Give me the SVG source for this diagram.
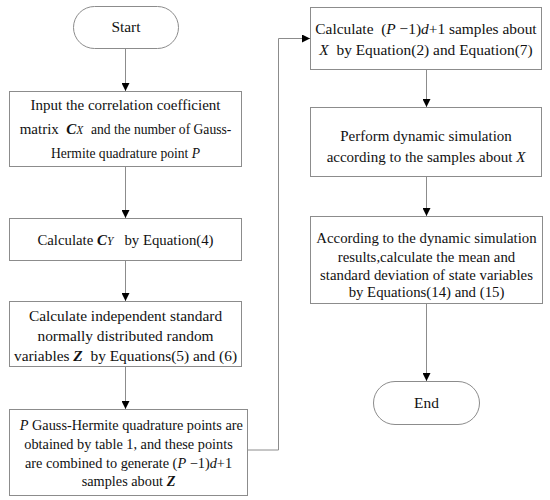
<svg xmlns="http://www.w3.org/2000/svg" width="550" height="500" viewBox="0 0 550 500">
<style>
.box{fill:#fff;stroke:#8c8c8c;stroke-width:1}
.ln{fill:none;stroke:#8c8c8c;stroke-width:1}
text{font-family:"Liberation Serif","Times New Roman",serif;font-size:15.4px;fill:#111;text-anchor:middle}
.sm{font-size:14.8px}
.s15{font-size:15px}
.s14{font-size:14.3px}
.s13{font-size:13.6px}
.i{font-style:italic}
.bi{font-style:italic;font-weight:bold}
</style>
<defs>
<marker id="ar" viewBox="0 0 8 8" refX="8" refY="4" markerWidth="8" markerHeight="8" markerUnits="userSpaceOnUse" orient="auto">
<path d="M0,0 L8,4 L0,8 Z" fill="#000"/>
</marker>
</defs>
<rect width="550" height="500" fill="#fff"/>
<g id="connectors">
<line class="ln" x1="125.5" y1="48" x2="125.5" y2="91" marker-end="url(#ar)"/>
<line class="ln" x1="125.5" y1="166" x2="125.5" y2="218" marker-end="url(#ar)"/>
<line class="ln" x1="125.5" y1="260" x2="125.5" y2="301" marker-end="url(#ar)"/>
<line class="ln" x1="125.5" y1="366" x2="125.5" y2="409" marker-end="url(#ar)"/>
<polyline class="ln" points="247,450 278.5,450 278.5,38.5 310,38.5" marker-end="url(#ar)"/>
<line class="ln" x1="426.5" y1="69" x2="426.5" y2="107" marker-end="url(#ar)"/>
<line class="ln" x1="426.5" y1="176" x2="426.5" y2="216" marker-end="url(#ar)"/>
<line class="ln" x1="426.5" y1="303" x2="426.5" y2="381" marker-end="url(#ar)"/>
</g>
<g id="start">
<rect class="box" x="73.5" y="6.5" width="105" height="42" rx="21"/>
<text x="126" y="32">Start</text>
</g>
<g id="input">
<rect class="box" x="9.5" y="91.5" width="232" height="75"/>
<text class="s15" x="125.5" y="110">Input the correlation coefficient</text>
<text class="s15" x="125.5" y="134" xml:space="preserve">matrix  <tspan class="bi">C</tspan><tspan class="i" font-size="11.5">X</tspan>  <tspan class="s13">and the number of Gauss-</tspan></text>
<text class="s13" x="125.5" y="158">Hermite quadrature point <tspan class="i">P</tspan></text>
</g>
<g id="calcCY">
<rect class="box" x="9.5" y="218.5" width="232" height="42"/>
<text class="sm" x="125.5" y="245" xml:space="preserve">Calculate <tspan class="bi">C</tspan><tspan class="i" font-size="11.5">Y</tspan>   by Equation(4)</text>
</g>
<g id="calcZ">
<rect class="box" x="9.5" y="301.5" width="232" height="65"/>
<text x="125.5" y="321">Calculate independent standard</text>
<text x="125.5" y="341">normally distributed random</text>
<text x="125.5" y="361" xml:space="preserve">variables <tspan class="bi">Z</tspan>  by Equations(5) and (6)</text>
</g>
<g id="points">
<rect class="box" x="9.5" y="409.5" width="238" height="86"/>
<text class="s14" x="129.5" y="430" xml:space="preserve"> <tspan class="i">P</tspan> Gauss-Hermite quadrature points are</text>
<text class="s14" x="128.5" y="449">obtained by table 1, and these points</text>
<text class="s14" x="128.5" y="468">are combined to generate (<tspan class="i">P</tspan> −1)<tspan class="i">d</tspan>+1</text>
<text class="s14" x="128.5" y="486">samples about <tspan class="bi">Z</tspan></text>
</g>
<g id="calcX">
<rect class="box" x="310.5" y="7.5" width="231" height="62"/>
<text x="426" y="34" xml:space="preserve">Calculate  (<tspan class="i">P</tspan> −1)<tspan class="i">d</tspan>+1 samples about</text>
<text x="426" y="55" xml:space="preserve"><tspan class="i">X</tspan>  by Equation(2) and Equation(7)</text>
</g>
<g id="simulate">
<rect class="box" x="310.5" y="107.5" width="231" height="69"/>
<text class="s15" x="426" y="141">Perform dynamic simulation</text>
<text class="s15" x="426" y="162">according to the samples about <tspan class="i">X</tspan></text>
</g>
<g id="stats">
<rect class="box" x="310.5" y="216.5" width="232" height="87"/>
<text class="sm" x="426.5" y="243">According to the dynamic simulation</text>
<text class="sm" x="426.5" y="262">results,calculate the mean and</text>
<text class="sm" x="426.5" y="280">standard deviation of state variables</text>
<text class="sm" x="426.5" y="297">by Equations(14) and (15)</text>
</g>
<g id="end">
<rect class="box" x="373.5" y="381.5" width="106" height="43" rx="21.5"/>
<text x="426.5" y="408">End</text>
</g>
</svg>
